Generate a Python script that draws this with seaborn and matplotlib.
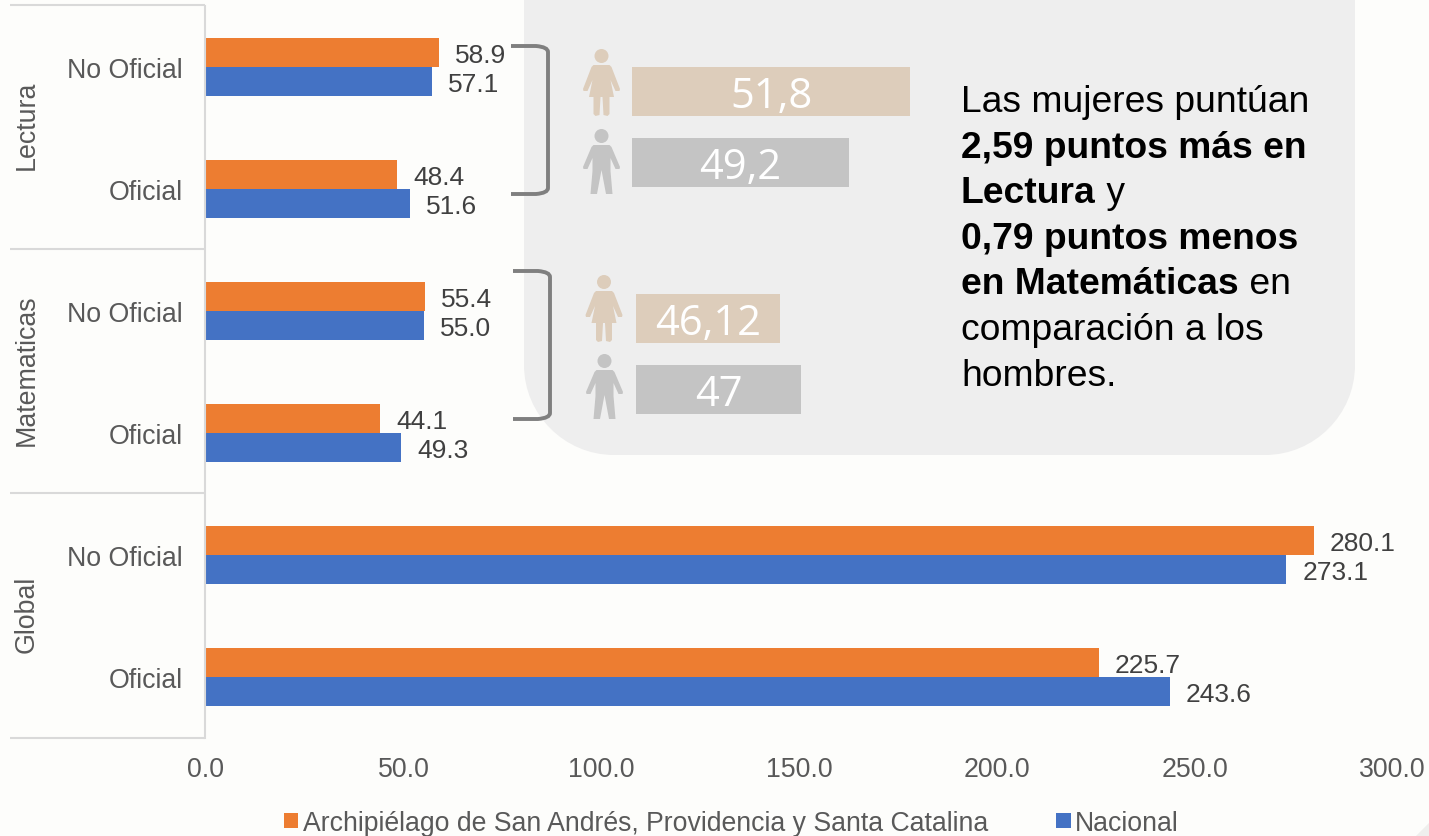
import numpy as np
import pandas as pd
import matplotlib
matplotlib.use('Agg')
import matplotlib.pyplot as plt
import seaborn as sns
from matplotlib.patches import Circle, PathPatch, Polygon
from matplotlib.path import Path

W, H = 1429, 837

grupos = ['Lectura', 'Matematicas', 'Global']
tipos = ['No Oficial', 'Oficial']
series = ['Archipiélago de San Andrés, Providencia y Santa Catalina', 'Nacional']
colores = ['#ED7D31', '#4472C4']

san_andres = [58.9, 48.4, 55.4, 44.1, 280.1, 225.7]
nacional = [57.1, 51.6, 55.0, 49.3, 273.1, 243.6]
xticks = [0, 50, 100, 150, 200, 250, 300]

sexo = ['Mujeres', 'Hombres']
lectura_sexo = [51.8, 49.2]
lectura_etiq = ['51,8', '49,2']
mate_sexo = [46.12, 47]
mate_etiq = ['46,12', '47']
color_sexo = ['#DDCDBB', '#C4C4C4']

sns.set_theme(style='white')
plt.rcParams['font.family'] = ['Liberation Sans', 'DejaVu Sans']


def px_axes(x0, y0, x1, y1, **kw):
    # axes from pixel box, y measured from the top of the picture
    return fig.add_axes([x0 / W, 1 - y1 / H, (x1 - x0) / W, (y1 - y0) / H], **kw)


fig = plt.figure(figsize=(W / 100, H / 100), dpi=100, facecolor='#FDFDFB')

## background layer: callout box, in pixels
bg = px_axes(0, 0, W, H, zorder=0)
bg.set_xlim(0, W)
bg.set_ylim(H, 0)
bg.axis('off')
r = 90
k = 0.55 * r
box = Path([(524, -5), (1355, -5), (1355, 456 - r), (1355, 456 - r + k), (1355 - r + k, 456), (1355 - r, 456),
            (524 + r, 456), (524 + r - k, 456), (524, 456 - r + k), (524, 456 - r), (524, -5)],
           [Path.MOVETO, Path.LINETO, Path.LINETO, Path.CURVE4, Path.CURVE4, Path.CURVE4, Path.LINETO, Path.CURVE4,
            Path.CURVE4, Path.CURVE4, Path.CLOSEPOLY])
bg.add_patch(PathPatch(box, fc='#EEEEEE', ec='none'))
bg.add_patch(Polygon([(1416, 837), (1429, 824), (1429, 837)], fc='#EFEFED', ec='none'))

## main chart
ax = px_axes(206, 7, 1392.7, 739, zorder=1)
ax.patch.set_alpha(0)
cats = [g + ' ' + t for g in grupos for t in tipos]
df = pd.DataFrame({
    'cat': cats * 2,
    'serie': [series[0]] * 6 + [series[1]] * 6,
    'valor': san_andres + nacional,
})
sns.barplot(data=df, y='cat', x='valor', hue='serie', order=cats, hue_order=series, palette=colores,
            width=0.476, gap=0, saturation=1, orient='y', linewidth=0, ax=ax)
handles, labels = ax.get_legend_handles_labels()
ax.get_legend().remove()

for cont in ax.containers:
    for t in ax.bar_label(cont, fmt='%.1f', padding=11.5, fontsize=19, color='#404040'):
        t.xyann = (t.xyann[0], t.xyann[1] - 1.5)

# set_position resets the axis, so it goes before the tick settings
for s in ['top', 'right', 'bottom']:
    ax.spines[s].set_visible(False)
ax.spines['left'].set_color('#D9D9D9')
ax.spines['left'].set_linewidth(1.5)
ax.spines['left'].set_position(('outward', 0.8))

ax.set_xlim(0, 300)
ax.set_ylim(5.5, -0.5)
ax.set_xlabel('')
ax.set_ylabel('')
ax.set_xticks(xticks)
ax.set_xticklabels(['%.1f' % v for v in xticks], fontsize=19.3, color='#595959')
ax.set_yticks(range(6))
ax.set_yticklabels(tipos * 3, fontsize=19.3, color='#595959')
ax.tick_params(axis='x', length=0, pad=13)
ax.tick_params(axis='y', length=0, pad=16)

## top layer: separators, group names, brackets, icons, text
top = px_axes(0, 0, W, H, zorder=2)
top.patch.set_alpha(0)
top.set_xlim(0, W)
top.set_ylim(H, 0)
top.axis('off')

for y in [6, 249.5, 493.5, 739]:
    top.plot([10, 205], [y, y], color='#D9D9D9', lw=1.5, solid_capstyle='butt')
for g, y in zip(grupos, [125, 370, 614]):
    top.text(27, y, g, rotation=90, ha='center', va='center', fontsize=19.3, color='#595959')


def bracket(x0, x1, y0, y1):
    verts = [(x0, y0), (x1 - 12, y0), (x1, y0 + 1), (x1, y0 + 6), (x1, y1 - 6), (x1, y1 - 1), (x1 - 12, y1), (x0, y1)]
    codes = [Path.MOVETO, Path.LINETO, Path.CURVE3, Path.CURVE3, Path.LINETO, Path.CURVE3, Path.CURVE3, Path.LINETO]
    top.add_patch(PathPatch(Path(verts, codes), fc='none', ec='#7F7F7F', lw=2.8, capstyle='butt'))


bracket(511, 548, 47, 195)
bracket(513, 550, 272, 420)


def woman(cx, cy, color):
    top.add_patch(Circle((cx, cy), 7, fc=color, ec='none'))
    shape = [(-8, 9), (8, 9), (10, 11), (18.5, 33), (18, 35), (14, 35), (9, 24), (12.5, 41), (8, 41), (8, 58),
             (6, 60), (2, 59), (1, 41), (-1, 41), (-2, 59), (-6, 60), (-8, 58), (-8, 41), (-12.5, 41), (-9, 24),
             (-14, 35), (-18, 35), (-18.5, 33), (-10, 11)]
    top.add_patch(Polygon([(cx + a, cy + b) for a, b in shape], fc=color, ec='none'))


def man(cx, cy, color):
    top.add_patch(Circle((cx, cy), 7, fc=color, ec='none'))
    shape = [(-8, 9), (8, 9), (10, 11), (18.5, 31), (18, 33), (14, 33), (9, 22), (9, 35), (11, 58), (4.5, 58),
             (0, 34), (-4.5, 58), (-11, 58), (-9, 35), (-9, 22), (-14, 33), (-18, 33), (-18.5, 31), (-10, 11)]
    top.add_patch(Polygon([(cx + a, cy + b) for a, b in shape], fc=color, ec='none'))


woman(601.5, 57, color_sexo[0])
man(601.5, 137, color_sexo[1])
woman(604, 283, color_sexo[0])
man(604.5, 362, color_sexo[1])

## callout text, bold parts measured so the normal text can follow on the same line
lineas = [
    [('Las mujeres puntúan', 'normal')],
    [('2,59 puntos más en', 'bold')],
    [('Lectura', 'bold'), (' y', 'normal')],
    [('0,79 puntos menos', 'bold')],
    [('en Matemáticas', 'bold'), (' en', 'normal')],
    [('comparación a los', 'normal')],
    [('hombres.', 'normal')],
]
rend = fig.canvas.get_renderer()
for i, partes in enumerate(lineas):
    x = 961
    y = 112 + i * 45.6
    for txt, peso in partes:
        t = top.text(x, y, txt, fontsize=26.8, fontweight=peso, color='black', ha='left', va='baseline')
        x += t.get_window_extent(rend).width

## small sex bars, scale starts at 40 as in the original
for valores, etiq, x0, y0 in [(lectura_sexo, lectura_etiq, 632, 57), (mate_sexo, mate_etiq, 636, 284)]:
    ins = px_axes(x0, y0, x0 + 300, y0 + 142, zorder=3)
    ins.patch.set_alpha(0)
    sns.barplot(x=valores, y=sexo, hue=sexo, palette=color_sexo, width=0.69, saturation=1, orient='y',
                linewidth=0, legend=False, ax=ins)
    ins.set_xlim(40, 40 + 300 / 23.6)
    ins.set_ylim(1.5, -0.5)
    for cont, e in zip(ins.containers, etiq):
        for t in ins.bar_label(cont, labels=[e], label_type='center', fontsize=30, color='white', family='Open Sans'):
            t.xyann = (t.xyann[0], t.xyann[1] - 3)
    ins.axis('off')

## legend
fig.legend(handles, labels, loc='lower left', bbox_to_anchor=(265 / W, -18.5 / H), ncol=2, frameon=False, fontsize=19.2,
           labelcolor='#595959', handlelength=0.55, handleheight=0.5, handletextpad=0.18, columnspacing=2.53,
           borderpad=0.2)

fig.savefig('out.png', dpi=100, facecolor=fig.get_facecolor())
